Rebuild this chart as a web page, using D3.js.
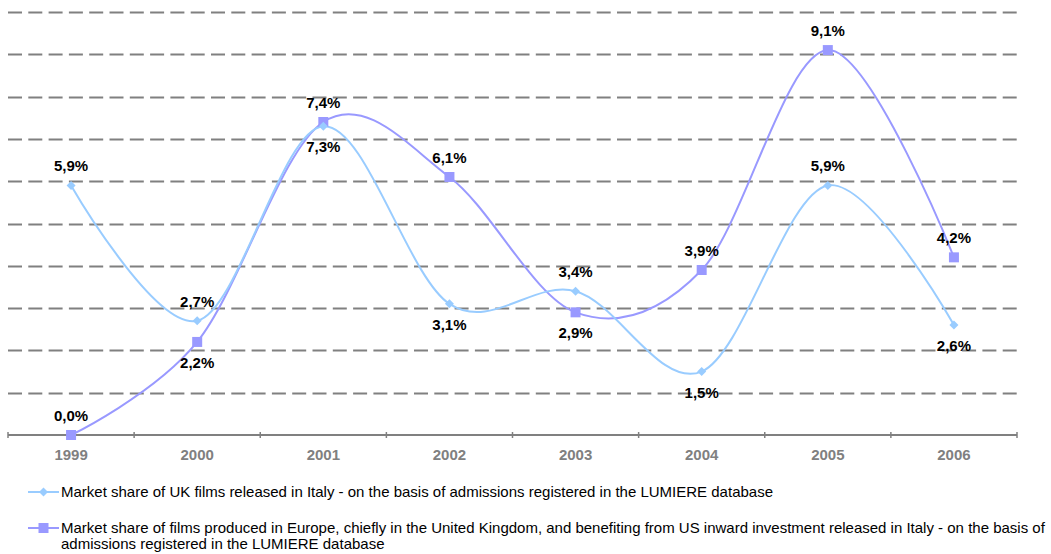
<!DOCTYPE html>
<html>
<head>
<meta charset="utf-8">
<script src="https://cdn.jsdelivr.net/npm/d3@7"></script>
<style>
  html, body { margin: 0; padding: 0; background: #fff; }
  svg { display: block; font-family: Arial, "Liberation Sans", sans-serif; }
</style>
</head>
<body>
<svg id="chart" width="1051" height="554"></svg>
<script>
// market share (%) of films in Italy, by year
const years = ['1999', '2000', '2001', '2002', '2003', '2004', '2005', '2006'];
const ukShare = [5.9, 2.7, 7.3, 3.1, 3.4, 1.5, 5.9, 2.6];
const euUsShare = [0.0, 2.2, 7.4, 6.1, 2.9, 3.9, 9.1, 4.2];
// label placement per point: 'above' or 'below'
const ukLabelPos = ['above', 'above', 'below', 'below', 'above', 'below', 'above', 'below'];
const euUsLabelPos = ['above', 'below', 'above', 'above', 'below', 'above', 'above', 'above'];
const yTicks = [0, 1, 2, 3, 4, 5, 6, 7, 8, 9, 10];
const legendLines = [
  ['Market share of UK films released in Italy - on the basis of admissions registered in the LUMIERE database'],
  ['Market share of films produced in Europe, chiefly in the United Kingdom, and benefiting from US inward investment released in Italy - on the basis of',
   'admissions registered in the LUMIERE database']
];

const svg = d3.select('#chart');
const plotL = 8, plotR = 1017, plotT = 12, plotB = 435;

const x = d3.scaleBand().domain(years).range([plotL, plotR]);
const y = d3.scaleLinear().domain([0, 10]).range([plotB, plotT]);
const cx = d => x(d) + x.bandwidth() / 2;

// dashed gridlines
svg.append('g').selectAll('line').data(yTicks.slice(1)).join('line')
  .attr('x1', plotL).attr('x2', plotR)
  .attr('y1', d => Math.round(y(d)) + 0.5).attr('y2', d => Math.round(y(d)) + 0.5)
  .attr('stroke', '#808080').attr('stroke-width', 2)
  .attr('stroke-dasharray', '14,6.3');

// x axis, ticks on band boundaries
const ax = svg.append('g');
ax.append('line').attr('x1', plotL).attr('x2', plotR).attr('y1', plotB).attr('y2', plotB)
  .attr('stroke', '#808080').attr('stroke-width', 2);
ax.selectAll('line.tick').data(years.map(d => x(d)).concat([plotR])).join('line')
  .attr('class', 'tick')
  .attr('x1', d => d).attr('x2', d => d).attr('y1', plotB - 3).attr('y2', plotB + 3)
  .attr('stroke', '#808080').attr('stroke-width', 1.5);
ax.selectAll('text').data(years).join('text')
  .attr('x', cx).attr('y', plotB + 25)
  .attr('text-anchor', 'middle')
  .attr('font-size', 15).attr('font-weight', 'bold').attr('fill', '#808080')
  .text(d => d);

const line = d3.line()
  .x((d, i) => cx(years[i]))
  .y(d => y(d))
  .curve(d3.curveCatmullRom.alpha(0));

const diamond = 'M0,-4.5L4.5,0L0,4.5L-4.5,0Z';
const square = d3.symbol().type(d3.symbolSquare).size(100)();

const series = [
  { values: ukShare, pos: ukLabelPos, color: '#99CCFF', marker: diamond },
  { values: euUsShare, pos: euUsLabelPos, color: '#9999FF', marker: square }
];

const fmt = v => v.toFixed(1).replace('.', ',') + '%';

[series[1], series[0]].forEach(s => {
  svg.append('path').datum(s.values)
    .attr('d', line).attr('fill', 'none')
    .attr('stroke', s.color).attr('stroke-width', 2);
});
[series[1], series[0]].forEach(s => {
  svg.append('g').selectAll('path').data(s.values).join('path')
    .attr('d', s.marker)
    .attr('transform', (d, i) => `translate(${cx(years[i])},${y(d)})`)
    .attr('fill', s.color);
});

series.forEach(s => {
  svg.append('g').selectAll('text').data(s.values).join('text')
    .attr('x', (d, i) => cx(years[i]))
    .attr('y', (d, i) => y(d) + (s.pos[i] === 'above' ? -14 : 26))
    .attr('text-anchor', 'middle')
    .attr('font-size', 15).attr('font-weight', 'bold').attr('fill', '#000')
    .text(fmt);
});

// legend
const lg = svg.append('g');
const legendY = [492, 528];
series.forEach((s, k) => {
  const ly = legendY[k];
  lg.append('line').attr('x1', 28).attr('x2', 59).attr('y1', ly).attr('y2', ly)
    .attr('stroke', s.color).attr('stroke-width', 2);
  lg.append('path')
    .attr('d', s.marker)
    .attr('transform', `translate(43.5,${ly})`)
    .attr('fill', s.color);
  const t = lg.append('text').attr('x', 61).attr('y', ly + 5)
    .attr('font-size', 15).attr('fill', '#000');
  legendLines[k].forEach((ln, i) => {
    t.append('tspan').attr('x', 61).attr('dy', i === 0 ? 0 : 16).text(ln);
  });
});
</script>
</body>
</html>
